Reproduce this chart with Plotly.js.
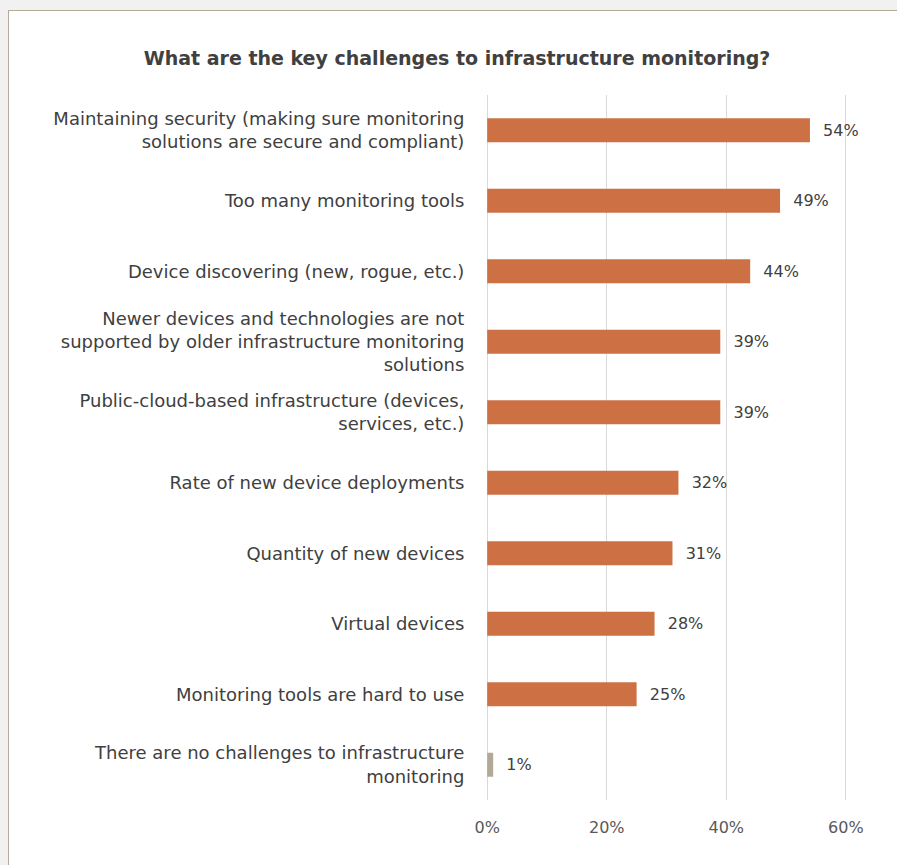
<!DOCTYPE html>
<html>
<head>
<meta charset="utf-8">
<script src="https://cdn.plot.ly/plotly-3.0.1.min.js"></script>
<style>
html,body{margin:0;padding:0;background:#f1f1f1;width:897px;height:865px;overflow:hidden;}
#frame{position:absolute;left:8px;top:10px;width:900px;height:870px;border-left:1px solid #b3aa98;border-top:1px solid #b3aa98;background:#fff;}
#chart{position:absolute;left:0;top:0;width:888px;height:854px;}
</style>
</head>
<body>
<div id="frame"><div id="chart"></div></div>
<script>
const categories = [
  "Maintaining security (making sure monitoring<br>solutions are secure and compliant)",
  "Too many monitoring tools",
  "Device discovering (new, rogue, etc.)",
  "Newer devices and technologies are not<br>supported by older infrastructure monitoring<br>solutions",
  "Public-cloud-based infrastructure (devices,<br>services, etc.)",
  "Rate of new device deployments",
  "Quantity of new devices",
  "Virtual devices",
  "Monitoring tools are hard to use",
  "There are no challenges to infrastructure<br>monitoring"
];
const values = [54, 49, 44, 39, 39, 32, 31, 28, 25, 1];
const barColors = ["#cd7145","#cd7145","#cd7145","#cd7145","#cd7145","#cd7145","#cd7145","#cd7145","#cd7145","#b1a897"];
const xTicks = [0, 20, 40, 60];
const xTickLabels = ["0%", "20%", "40%", "60%"];
const chartTitle = "What are the key challenges to infrastructure monitoring?";

const FONT = "DejaVu Sans, sans-serif";
const trace = {
  type: "bar",
  orientation: "h",
  x: values,
  y: categories,
  marker: {color: barColors},
  text: values.map(v => "\u00a0\u00a0" + v + "%"),
  textposition: "outside",
  textfont: {family: FONT, size: 16, color: "#404040"},
  cliponaxis: false,
  hoverinfo: "none"
};
const layout = {
  width: 888, height: 854,
  margin: {l: 477, r: 50, t: 84, b: 65},
  paper_bgcolor: "#ffffff",
  plot_bgcolor: "#ffffff",
  bargap: 0.66,
  showlegend: false,
  font: {family: FONT, color: "#404040"},
  title: {
    text: "<b>" + chartTitle + "</b>",
    font: {family: FONT, size: 19, color: "#404040"},
    x: 448/888, xanchor: "center", xref: "container",
    y: 1 - 47/854, yanchor: "middle", yref: "container"
  },
  xaxis: {
    range: [-0.2, 60.2],
    tickvals: xTicks,
    ticktext: xTickLabels,
    showgrid: true, gridcolor: "#d9d9d9", gridwidth: 1,
    zeroline: false, showline: false,
    ticks: "outside", ticklen: 13, tickcolor: "rgba(0,0,0,0)",
    tickfont: {family: FONT, size: 16, color: "#595959"}
  },
  yaxis: {
    autorange: "reversed",
    showgrid: false, zeroline: false, showline: false,
    ticks: "outside", ticklen: 17, tickcolor: "rgba(0,0,0,0)",
    tickfont: {family: FONT, size: 18, color: "#404040"}
  }
};
Plotly.newPlot("chart", [trace], layout, {displayModeBar: false, staticPlot: true});
</script>
</body>
</html>
